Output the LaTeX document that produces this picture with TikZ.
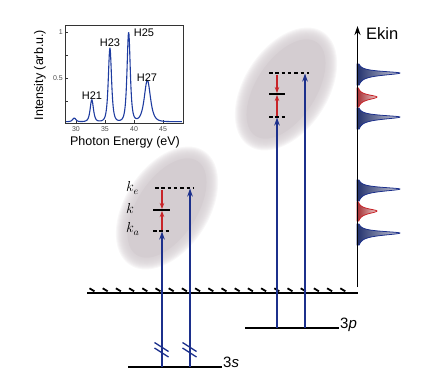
\documentclass[tikz,border=0pt]{standalone}
\usepackage{fontspec}
\setmainfont{Liberation Sans}
\usetikzlibrary{arrows.meta}
\definecolor{navy}{RGB}{28,48,140}
\definecolor{rd}{RGB}{200,35,40}
\definecolor{ellc}{RGB}{212,205,209}
\definecolor{pkdark}{RGB}{35,50,110}
\definecolor{pklight}{RGB}{205,205,215}
\definecolor{rddark}{RGB}{165,45,50}
\definecolor{rdlight}{RGB}{235,205,205}
\definecolor{curve}{RGB}{30,60,160}
\begin{document}
\begin{tikzpicture}[x=1pt,y=-1pt,
  declare function={Lq(\u)=1/(1+(\u)*(\u)); Lf(\u)=Lq(\u)*Lq(\u);},
  bluearr/.style={navy, line width=1.5, -{Stealth[length=8pt,width=5.5pt]}},
  redarr/.style={rd, line width=1.2, -{Stealth[length=6pt,width=4.5pt]}},
  lvl/.style={line width=1.5, black},
  dlvl/.style={line width=1.6, black, dash pattern=on 3.5pt off 2.8pt},
  brk/.style={navy, line width=1.3},
  ellfill/.style={fill=ellc},
  bluepk/.style={draw=navy, line width=0.8, left color=pkdark, right color=pklight},
  redpk/.style={draw=rd, line width=0.8, left color=rddark, right color=rdlight},
  ticklab/.style={font=\fontsize{7}{8}\selectfont, text=black!70, inner sep=1pt},
  hlab/.style={font=\fontsize{11}{13}\selectfont, inner sep=0pt},
  biglab/.style={font=\fontsize{12.5}{14}\selectfont, inner sep=0pt},
  klab/.style={font=\fontsize{14}{16}\selectfont, inner sep=0pt, anchor=west},
  lvllab/.style={font=\fontsize{15}{17}\selectfont, inner sep=0pt, anchor=base west}
]
\useasboundingbox (0,0) rectangle (429,386);

% ---------- soft ellipses ----------
\foreach \cx/\cy in {167/208, 286/89}{
  \fill[ellfill, rotate around={57:(\cx,\cy)}] (\cx,\cy) ellipse [x radius=56, y radius=30];
  \foreach \i in {1,...,12}{
    \fill[ellfill, opacity=0.16, rotate around={57:(\cx,\cy)}] (\cx,\cy) ellipse [x radius={56+\i}, y radius={30+\i}];
  }
}

% ---------- inset spectrum ----------
\draw[black!80, line width=0.6] (65,25) rectangle (183,123);
\foreach \ty in {32,55,78,101} \draw[black!80, line width=0.5] (65,\ty) -- (68,\ty);
\foreach \tx in {76,105,134,163} \draw[black!80, line width=0.5] (\tx,123) -- (\tx,120);
\node[ticklab, anchor=east] (t1) at (64,32) {1};
\node[ticklab, anchor=east] (t05) at (64,78) {0.5};
\node[ticklab] (x30) at (76,129) {30};
\node[ticklab] (x35) at (105,129) {35};
\node[ticklab] (x40) at (134,129) {40};
\node[ticklab] (x45) at (163,129) {45};
\draw[curve, line width=1.1, line join=round] plot[domain=28.3:48.1, samples=220, smooth]
  ({76+5.85*(\x-30)},
   {124-92*(0.025+0.04*Lf((\x-29.7)/0.5)+0.24*Lf((\x-32.7)/0.5)+0.80*Lf((\x-35.8)/0.5)+0.97*Lf((\x-39.0)/0.5)+0.45*Lf((\x-42.2)/0.95))});
\node[hlab] (h21) at (92,96) {H21};
\node[hlab] (h23) at (110,43) {H23};
\node[hlab] (h25) at (144,33) {H25};
\node[hlab] (h27) at (147,78) {H27};
\node[biglab] (xl) at (125,142) {Photon Energy (eV)};
\node[biglab, rotate=90] (yl) at (40,75) {Intensity (arb.u.)};

% ---------- levels ----------
\coordinate (ionL) at (87,293);
\coordinate (ionR) at (358,293);
\draw[line width=1.8] (ionL) -- (ionR);
\foreach \h in {0,...,19}
  \draw[line width=1.8] ({92+13.2*\h-2.5},288.3) -- ({92+13.2*\h+2.5},291.3);

\coordinate (s3L) at (128,367);
\coordinate (s3R) at (222,367);
\draw[lvl] (s3L) -- (s3R);
\node[lvllab] (s3lab) at (223,367) {3\textit{s}};

\coordinate (p3L) at (245,328);
\coordinate (p3R) at (339,328);
\draw[lvl] (p3L) -- (p3R);
\node[lvllab] (p3lab) at (340,328) {3\textit{p}};

% left group levels
\coordinate (keL) at (155,188); \coordinate (keR) at (194,188);
\coordinate (kL) at (153,210);  \coordinate (kR) at (170,210);
\coordinate (kaL) at (153,231); \coordinate (kaR) at (171,231);
\draw[dlvl] (keL) -- (keR);
\draw[lvl] (kL) -- (kR);
\draw[dlvl] (kaL) -- (kaR);
\node[klab] (kelab) at (126,188) {$k_e$};
\node[klab] (klab) at (126,208) {$k$};
\node[klab] (kalab) at (126,229) {$k_a$};

% right group levels
\coordinate (ke2L) at (269,73); \coordinate (ke2R) at (309,73);
\coordinate (k2L) at (269,94);  \coordinate (k2R) at (285,94);
\coordinate (ka2L) at (269,117); \coordinate (ka2R) at (286,117);
\draw[dlvl] (ke2L) -- (ke2R);
\draw[lvl] (k2L) -- (k2R);
\draw[dlvl] (ka2L) -- (ka2R);

% ---------- blue arrows ----------
\coordinate (a1s) at (162,367); \coordinate (a1e) at (162,231.5);
\coordinate (a2s) at (190,367); \coordinate (a2e) at (190,188.5);
\coordinate (a3s) at (277,328); \coordinate (a3e) at (277,117.5);
\coordinate (a4s) at (305,328); \coordinate (a4e) at (305,73.5);
\draw[bluearr] (a1s) -- (a1e);
\draw[bluearr] (a2s) -- (a2e);
\draw[bluearr] (a3s) -- (a3e);
\draw[bluearr] (a4s) -- (a4e);
\foreach \bx in {162,190}{
  \draw[brk] (\bx-7.5,342.5) -- (\bx+6.5,351.5);
  \draw[brk] (\bx-7.5,348) -- (\bx+6.5,357);
}

% ---------- red arrows ----------
\coordinate (r1s) at (162,189.5); \coordinate (r1e) at (162,209);
\coordinate (r2s) at (162,230);   \coordinate (r2e) at (162,211);
\coordinate (r3s) at (277,74.5);  \coordinate (r3e) at (277,93);
\coordinate (r4s) at (277,116);   \coordinate (r4e) at (277,95);
\draw[redarr] (r1s) -- (r1e);
\draw[redarr] (r2s) -- (r2e);
\draw[redarr] (r3s) -- (r3e);
\draw[redarr] (r4s) -- (r4e);

% ---------- photoelectron spectrum ----------
\foreach \yc in {73,117,189,233}{
  \path[bluepk] (357,\yc-9)
    -- plot[domain=-9:0, samples=30, smooth] ({357+43/(1+(\x/2)^2)},{\yc+\x})
    -- plot[domain=0:12, samples=40, smooth] ({357+43/(1+(\x/2.8)^2)},{\yc+\x})
    -- (357,\yc+12) -- cycle;
}
\foreach \yc in {97,211}{
  \path[redpk] (357,\yc-9)
    -- plot[domain=-9:0, samples=30, smooth] ({357+20/(1+(\x/2.6)^2)},{\yc+\x})
    -- plot[domain=0:10, samples=34, smooth] ({357+20/(1+(\x/3.2)^2)},{\yc+\x})
    -- (357,\yc+10) -- cycle;
}
\coordinate (axB) at (357.5,287);
\coordinate (axT) at (357.5,26);
\draw[line width=1.5, -{Stealth[length=9pt,width=6pt]}] (axB) -- (axT);
\node[font=\fontsize{16.5}{18}\selectfont, inner sep=0pt, anchor=base west] (ekin) at (366,39.5) {Ekin};
\end{tikzpicture}
\end{document}
